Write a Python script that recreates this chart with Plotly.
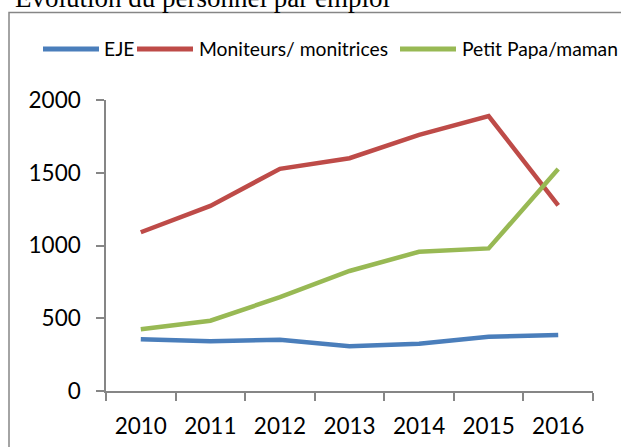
import plotly.graph_objects as go

years = ["2010", "2011", "2012", "2013", "2014", "2015", "2016"]
eje = [355, 342, 353, 307, 325, 373, 385]
moniteurs = [1091, 1272, 1527, 1600, 1760, 1890, 1276]
petit = [424, 483, 645, 825, 957, 980, 1526]

series = [
    ("EJE", eje, "#4a7ebb"),
    ("Moniteurs/ monitrices", moniteurs, "#be4b48"),
    ("Petit Papa/maman", petit, "#98b954"),
]

fig = go.Figure()
for name, vals, col in series:
    fig.add_trace(go.Scatter(x=years, y=vals, name=name, mode="lines",
                             line=dict(color=col, width=4.5), showlegend=False))

W, H = 621, 447
L, R, T, B = 106, 593, 100, 391

def px(x):
    return (x - L) / (R - L)

def py(y):
    return (B - y) / (B - T)

# manual legend (line sample + label), matching the reference spacing
legend_x = [(43, 99, 102), (137, 193, 197), (400, 456, 460)]
legend_y = 49
shapes = [dict(type="rect", xref="paper", yref="paper",
               x0=px(9), x1=px(640), y0=py(470), y1=py(12.5),
               line=dict(color="#868686", width=1.5), fillcolor="rgba(0,0,0,0)", layer="below")]
annotations = [dict(text="Évolution du personnel par emploi", xref="paper", yref="paper",
                    x=px(13), y=py(15), xanchor="left", yanchor="bottom", showarrow=False,
                    font=dict(family="Liberation Serif, Times New Roman, serif", size=27, color="black"))]
for (name, vals, col), (lx0, lx1, tx) in zip(series, legend_x):
    shapes.append(dict(type="line", xref="paper", yref="paper",
                       x0=px(lx0), x1=px(lx1), y0=py(legend_y), y1=py(legend_y),
                       line=dict(color=col, width=5)))
    annotations.append(dict(text=name, xref="paper", yref="paper", x=px(tx), y=py(legend_y),
                            xanchor="left", yanchor="middle", showarrow=False,
                            font=dict(family="Lato, Open Sans, sans-serif", size=19.3, color="black")))

fig.update_layout(
    width=W, height=H,
    margin=dict(l=L, r=W - R, t=T, b=H - B, pad=0, autoexpand=False),
    paper_bgcolor="white", plot_bgcolor="white",
    font=dict(family="Lato, Open Sans, sans-serif", color="black"),
    showlegend=False,
    xaxis=dict(type="category", range=[-0.5, 6.5], showgrid=False, showline=True,
               linecolor="#868686", linewidth=1.5, ticks="outside", ticklen=8,
               tickcolor="#868686", tickwidth=1.5, tickson="boundaries",
               tickfont=dict(size=22.5), zeroline=False, ticklabelstandoff=14),
    yaxis=dict(range=[0, 2000], dtick=500, showgrid=False, showline=True,
               linecolor="#868686", linewidth=1.5, ticks="outside", ticklen=8,
               tickcolor="#868686", tickwidth=1.5, tickfont=dict(size=22.5),
               zeroline=False, ticklabelstandoff=11),
    shapes=shapes,
    annotations=annotations,
)

fig.write_html("out.html", config={"displayModeBar": False},
               post_script="document.body.style.margin='0';document.body.style.overflow='hidden';")
